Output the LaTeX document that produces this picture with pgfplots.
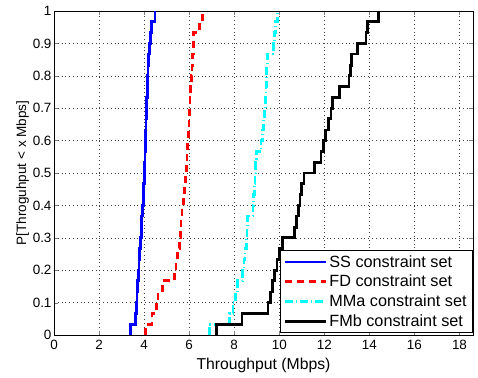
\documentclass[border=0pt]{standalone}
\usepackage{pgfplots}
\pgfplotsset{compat=1.18}
\usepackage{fontspec}
\setmainfont{Liberation Sans}
\definecolor{mblue}{RGB}{0,0,255}
\definecolor{mred}{RGB}{255,0,0}
\definecolor{mcyan}{RGB}{0,255,255}
\begin{document}
\begin{tikzpicture}
\begin{axis}[
  scale only axis, width=419bp, height=324bp,
  xmin=0, xmax=18.6, ymin=0, ymax=1,
  xtick={0,2,...,18}, ytick={0,0.1,...,1.0},
  yticklabels={0,0.1,0.2,0.3,0.4,0.5,0.6,0.7,0.8,0.9,1},
  /pgf/number format/assume math mode=true,
  tick label style={font=\fontsize{13.5}{15}\selectfont},
  xlabel={Throughput (Mbps)},
  ylabel={P[Throguhput < x Mbps]},
  xlabel style={font=\fontsize{15.8}{17}\selectfont, yshift=-1pt},
  ylabel style={font=\fontsize{13.6}{15}\selectfont, yshift=-3pt},
  xticklabel style={yshift=-2pt},
  yticklabel style={xshift=1pt},
  tick align=inside, tick pos=both, major tick length=4pt,
  grid=major, major grid style={black!75, line width=0.5pt, dash pattern=on 0.6pt off 3.2pt},
  axis line style={line width=0.7pt},
  legend style={at={(1,0)}, anchor=south east, xshift=-0.5bp, yshift=2bp, draw=black, line width=0.9pt, font=\fontsize{16.3}{18}\selectfont, row sep=2.6pt, inner xsep=3.5pt, inner ysep=2.5pt},
  legend cell align=left,
  legend image code/.code={\draw[#1, line width=2.8pt] (0cm,0cm) -- (1.45cm,0cm);},
]
\addplot[const plot, mblue, line width=2.8pt] coordinates {
(3.38,0) (3.38,0.033) (3.63,0.067) (3.66,0.1) (3.68,0.133) (3.71,0.167) (3.74,0.2) (3.77,0.233) (3.80,0.267) (3.84,0.3) (3.87,0.333) (3.9,0.367) (3.93,0.4) (3.96,0.433) (3.99,0.467) (4.02,0.5) (4.03,0.533) (4.04,0.567) (4.05,0.6) (4.07,0.633) (4.08,0.667) (4.1,0.7) (4.12,0.733) (4.14,0.767) (4.15,0.8) (4.17,0.833) (4.19,0.867) (4.24,0.9) (4.28,0.933) (4.32,0.967) (4.48,1.0)};
\addlegendentry{SS constraint set}
\addplot[const plot, mred, line width=2.8pt, dash pattern=on 7pt off 5pt] coordinates {
(4.07,0) (4.07,0.033) (4.35,0.067) (4.55,0.1) (4.62,0.133) (4.8,0.167) (5.35,0.2) (5.42,0.233) (5.48,0.267) (5.56,0.3) (5.6,0.333) (5.64,0.367) (5.68,0.4) (5.74,0.433) (5.78,0.467) (5.82,0.5) (5.87,0.533) (5.9,0.567) (5.93,0.6) (5.96,0.633) (5.99,0.667) (6.01,0.7) (6.04,0.733) (6.07,0.767) (6.1,0.8) (6.13,0.833) (6.15,0.867) (6.18,0.9) (6.2,0.933) (6.45,0.967) (6.58,1.0)};
\addlegendentry{FD constraint set}
\addplot[const plot, mcyan, line width=2.8pt, dash pattern=on 8pt off 3pt on 1.2pt off 3pt] coordinates {
(6.89,0) (6.89,0.033) (7.8,0.067) (7.95,0.1) (8.07,0.133) (8.15,0.167) (8.38,0.2) (8.43,0.233) (8.48,0.267) (8.53,0.3) (8.57,0.333) (8.6,0.367) (8.83,0.4) (8.86,0.433) (8.89,0.467) (8.92,0.5) (8.96,0.533) (9.0,0.567) (9.19,0.6) (9.25,0.633) (9.3,0.667) (9.35,0.7) (9.39,0.733) (9.41,0.767) (9.43,0.8) (9.45,0.833) (9.47,0.867) (9.75,0.9) (9.78,0.933) (9.85,0.967) (9.93,1.0)};
\addlegendentry{MMa constraint set}
\addplot[const plot, black, line width=2.8pt] coordinates {
(7.2,0) (7.2,0.033) (8.35,0.067) (9.5,0.1) (9.6,0.133) (9.7,0.167) (9.8,0.2) (9.9,0.233) (10.0,0.267) (10.15,0.3) (10.67,0.333) (10.77,0.367) (10.85,0.4) (10.92,0.433) (11.0,0.467) (11.1,0.5) (11.55,0.533) (11.85,0.567) (11.95,0.6) (12.05,0.633) (12.2,0.667) (12.3,0.7) (12.38,0.733) (12.67,0.767) (13.1,0.8) (13.15,0.833) (13.2,0.867) (13.48,0.9) (13.85,0.933) (13.9,0.967) (14.4,1.0)};
\addlegendentry{FMb constraint set}
\end{axis}
\pgfresetboundingbox
\path (current axis.south west) ++(-54bp,-43bp) rectangle ([shift={(5bp,11bp)}]current axis.north east);
\end{tikzpicture}
\end{document}
